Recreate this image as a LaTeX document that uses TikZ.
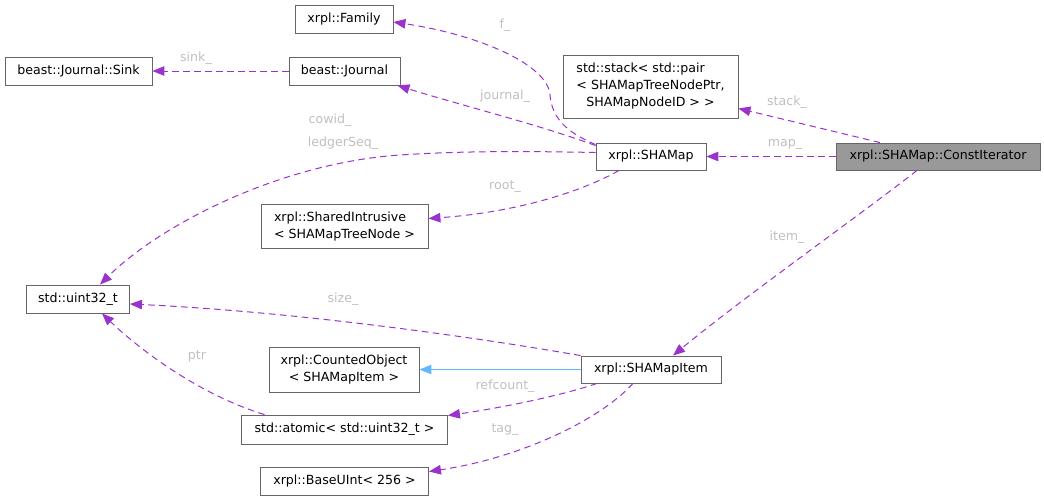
\documentclass[tikz,border=0pt]{standalone}
\usepackage{fontspec}
\setmainfont{DejaVu Sans}
\usetikzlibrary{arrows.meta}
\definecolor{edgec}{HTML}{9A32CD}
\definecolor{inhc}{HTML}{63B8FF}
\definecolor{labc}{HTML}{C0C0C0}
\definecolor{boxc}{HTML}{666666}
\definecolor{hlfill}{HTML}{999999}
\begin{document}
\begin{tikzpicture}[x=1pt,y=-1pt,
  font=\fontsize{12.6}{17}\selectfont,
  cls/.style={draw=boxc, fill=white, line width=0.9pt, inner sep=0pt, minimum height=28pt},
  hl/.style={cls, fill=hlfill},
  dep/.style={draw=edgec, dash pattern=on 6.5pt off 4.5pt, line width=1pt,
    -{Triangle[length=12pt,width=9.5pt,fill=edgec]}},
  inh/.style={draw=inhc, line width=1pt, -{Triangle[length=12pt,width=9.5pt,fill=inhc]}},
  lab/.style={text=labc, inner sep=0pt}]
\fill[white] (0,0) rectangle (1044,501);
\useasboundingbox (0,0) rectangle (1044,501);

% nodes
\node[cls, minimum width=98pt] (family) at (344,19) {xrpl::Family};
\node[cls, minimum width=147pt] (sink) at (78.5,71) {beast::Journal::Sink};
\node[cls, minimum width=111pt] (journal) at (344.5,71) {beast::Journal};
\node[cls, minimum width=175pt, minimum height=63pt, align=left] (stack) at (650.5,86.5)
  {std::stack< std::pair\\< SHAMapTreeNodePtr,\\\hspace*{10pt}SHAMapNodeID > >};
\node[cls, minimum width=110pt, minimum height=27pt] (shamap) at (651,156.5) {xrpl::SHAMap};
\node[hl, minimum width=204pt, minimum height=27pt] (iter) at (938,156.5) {xrpl::SHAMap::ConstIterator};
\node[cls, minimum width=167pt, minimum height=44pt, align=left] (shared) at (344.5,226.5)
  {xrpl::SharedIntrusive\\< SHAMapTreeNode >};
\node[cls, minimum width=103pt] (uint) at (78,299) {std::uint32\_t};
\node[cls, minimum width=150pt, minimum height=45pt, align=center] (counted) at (344,369.5)
  {xrpl::CountedObject\\< SHAMapItem >};
\node[cls, minimum width=140pt, minimum height=27pt] (item) at (651,369.5) {xrpl::SHAMapItem};
\node[cls, minimum width=206pt, minimum height=29pt] (atomic) at (344.5,429.5) {std::atomic< std::uint32\_t >};
\node[cls, minimum width=168pt] (base) at (344.5,481.5) {xrpl::BaseUInt< 256 >};

% edges
\draw[dep] ([xshift=-58pt]iter.north) -- ([yshift=10pt]stack.south east);
\draw[dep] (iter.west) -- (shamap.east);
\draw[dep] ([xshift=-21pt]iter.south) .. controls (860,215) and (740,300) .. ([xshift=22pt]item.north);

\draw[dep] ([yshift=-2pt]shamap.north west) .. controls (566,132) and (552,118) .. (550,95)
  .. controls (548,65) and (480,35) .. ([yshift=-3pt]family.east);
\draw[dep] ([yshift=-3pt]shamap.north west) .. controls (540,125) and (460,105) .. ([xshift=-3pt]journal.south east);
\draw[dep] (journal.west) -- (sink.east);
\draw[dep] ([yshift=4pt]shamap.west) .. controls (520,151) and (460,151) .. (400,155)
  .. controls (280,163) and (160,225) .. ([xshift=22pt]uint.north);
\draw[dep] ([xshift=-32pt]shamap.south) .. controls (585,190) and (520,212) .. ([yshift=8pt]shared.east);

\draw[dep] (item.north west) .. controls (480,338) and (300,312) .. ([yshift=-5pt]uint.east);
\draw[inh] (item.west) -- (counted.east);
\draw[dep] ([xshift=-54pt]item.south) .. controls (560,396) and (500,408) .. ([yshift=14pt]atomic.east);
\draw[dep] ([xshift=-18pt]item.south) .. controls (600,420) and (520,458) .. ([yshift=10pt]base.east);
\draw[dep] ([xshift=-80pt]atomic.north) .. controls (200,395) and (140,350) .. ([xshift=24pt]uint.south);

% labels
\node[lab] (lf) at (505,25) {f\_};
\node[lab] (lsink) at (196,58) {sink\_};
\node[lab] (ljournal) at (505,96) {journal\_};
\node[lab] (lstack) at (787,102) {stack\_};
\node[lab] (lcowid) at (330,120) {cowid\_};
\node[lab] (lledger) at (343,143) {ledgerSeq\_};
\node[lab] (lmap) at (785,144) {map\_};
\node[lab] (lroot) at (505,187) {root\_};
\node[lab] (litem) at (787,237) {item\_};
\node[lab] (lsize) at (343,299) {size\_};
\node[lab] (lptr) at (197,356) {ptr};
\node[lab] (lref) at (505,386) {refcount\_};
\node[lab] (ltag) at (505,430) {tag\_};
\end{tikzpicture}
\end{document}
